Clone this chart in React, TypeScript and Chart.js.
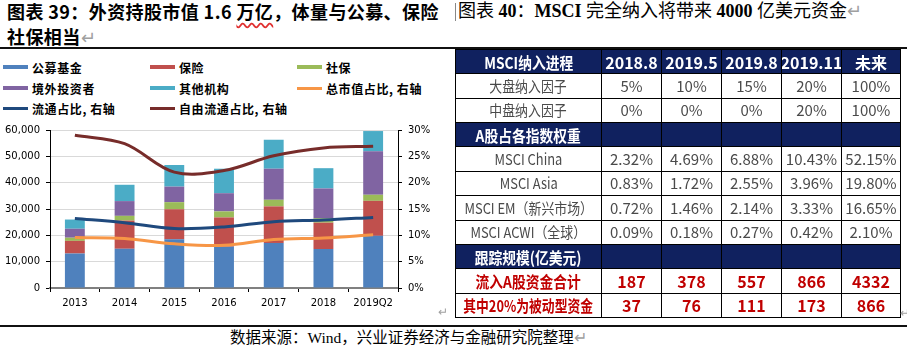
import React, { useEffect, useRef } from 'react';
import { Chart, registerables } from 'chart.js';

Chart.register(...registerables);

// ---------- chart data ----------
const categories = ['2013', '2014', '2015', '2016', '2017', '2018', '2019Q2'];
const gongmu = [13100, 14900, 18500, 15700, 17100, 14800, 19800]; // 公募基金
const baoxian = [4800, 10700, 11400, 11100, 13900, 10000, 13300]; // 保险
const shebao = [1200, 1800, 2700, 2300, 2500, 1700, 2300]; // 社保
const jingwai = [3400, 5600, 5900, 6900, 11800, 11300, 16500]; // 境外投资者
const qita = [3500, 6200, 8200, 9300, 11000, 7700, 7700]; // 其他机构
const zongShizhi = [9.6, 9.4, 8.4, 8.1, 9.2, 9.5, 10.1]; // 总市值占比 %
const liutong = [13.2, 12.4, 11.3, 11.6, 12.6, 12.9, 13.4]; // 流通占比 %
const ziyouLiutong = [29.0, 27.4, 22.0, 22.3, 25.1, 26.6, 26.9]; // 自由流通占比 %

const barNames = ['公募基金', '保险', '社保', '境外投资者', '其他机构'];
const lineNames = ['总市值占比, 右轴', '流通占比, 右轴', '自由流通占比, 右轴'];
const barColors = ['#4F81BD', '#C0504D', '#9BBB59', '#8064A2', '#4BACC6'];
const lineColors = ['#F79646', '#1F497D', '#772C2A'];
const leftMax = 60000;
const leftStep = 10000;
const rightMax = 30;
const rightStep = 5;

// ---------- table data ----------
const tableCols = ['2018.8', '2019.5', '2019.8', '2019.11', '未来'];
const largeCap = ['5%', '10%', '15%', '20%', '100%'];
const midCap = ['0%', '0%', '0%', '20%', '100%'];
const msciChina = ['2.32%', '4.69%', '6.88%', '10.43%', '52.15%'];
const msciAsia = ['0.83%', '1.72%', '2.55%', '3.96%', '19.80%'];
const msciEM = ['0.72%', '1.46%', '2.14%', '3.33%', '16.65%'];
const msciACWI = ['0.09%', '0.18%', '0.27%', '0.42%', '2.10%'];
const inflow = ['187', '378', '557', '866', '4332'];
const passive = ['37', '76', '111', '173', '866'];

const NAVY = '#10215F';
const RED = '#C00000';
const TICK_FONT = { family: 'DejaVu Sans', size: 10 };

function StockChart() {
  const ref = useRef<HTMLCanvasElement>(null);
  useEffect(() => {
    const canvas = ref.current;
    if (!canvas) return;
    const bars = [gongmu, baoxian, shebao, jingwai, qita].map((d, i) => ({
      type: 'bar' as const,
      label: barNames[i],
      data: d,
      backgroundColor: barColors[i],
      stack: 's',
      yAxisID: 'y',
      order: 2,
      barPercentage: 0.4,
      categoryPercentage: 1.0,
    }));
    const lines = [zongShizhi, liutong, ziyouLiutong].map((d, i) => ({
      type: 'line' as const,
      label: lineNames[i],
      data: d,
      borderColor: lineColors[i],
      backgroundColor: lineColors[i],
      borderWidth: 3,
      pointRadius: 0,
      tension: 0.35,
      fill: false,
      yAxisID: 'y1',
      order: 0,
    }));
    const chart = new Chart(canvas, {
      type: 'bar',
      data: { labels: categories, datasets: [...bars, ...lines] as any },
      options: {
        animation: false,
        responsive: false,
        maintainAspectRatio: false,
        layout: { padding: { top: 10, left: 0, right: 0, bottom: 0 } },
        plugins: { legend: { display: false }, tooltip: { enabled: false } },
        scales: {
          x: {
            stacked: true,
            grid: { display: true, drawOnChartArea: false, tickLength: 4, color: '#000', offset: true },
            border: { color: '#808080', width: 2 },
            ticks: { font: TICK_FONT, color: '#000', padding: 5, maxRotation: 0, autoSkip: false },
            afterFit: (s: any) => { s.height = 30; },
          },
          y: {
            stacked: true,
            min: 0,
            max: leftMax,
            ticks: {
              stepSize: leftStep,
              font: TICK_FONT,
              color: '#000',
              padding: 6,
              callback: (v: any) => Number(v).toLocaleString('en-US'),
            },
            grid: { color: '#D9D9D9', tickColor: '#000', tickLength: 4 },
            border: { color: '#000', width: 1 },
            afterFit: (s: any) => { s.width = 50; },
          },
          y1: {
            position: 'right',
            min: 0,
            max: rightMax,
            ticks: {
              stepSize: rightStep,
              font: TICK_FONT,
              color: '#000',
              padding: 6,
              callback: (v: any) => `${v}%`,
            },
            grid: { drawOnChartArea: false, tickColor: '#000', tickLength: 4 },
            border: { color: '#000', width: 1 },
            afterFit: (s: any) => { s.width = 52; },
          },
        },
      } as any,
    });
    return () => chart.destroy();
  }, []);
  return (
    <canvas
      ref={ref}
      width={450}
      height={200}
      style={{ position: 'absolute', left: 0, top: 118, width: 450, height: 200 }}
    />
  );
}

function Legend() {
  const items = [
    ...barNames.map((n, i) => ({ name: n, color: barColors[i], thick: true })),
    ...lineNames.map((n, i) => ({ name: n, color: lineColors[i], thick: false })),
  ];
  const colX = [3, 150, 297];
  const rowY = [67, 88, 108];
  return (
    <>
      {items.map((it, i) => {
        const r = Math.floor(i / 3);
        const c = i % 3;
        return (
          <div
            key={it.name}
            style={{ position: 'absolute', left: colX[c], top: rowY[r] - 9, height: 18, display: 'flex', alignItems: 'center' }}
          >
            <div style={{ width: 25, height: it.thick ? 4 : 3, background: it.color, marginRight: 4 }} />
            <span
              style={{
                fontFamily: '"Noto Sans CJK SC", sans-serif',
                fontWeight: 'bold',
                fontSize: 12,
                letterSpacing: 0.6,
                color: '#000',
                whiteSpace: 'nowrap',
              }}
            >
              {it.name}
            </span>
          </div>
        );
      })}
    </>
  );
}

const cellBorder = '1px solid #000';

function Cell(props: { text: string; bg?: string; color?: string; bold?: boolean; size?: number; squeeze?: number; family?: string }) {
  const { text, bg, color, bold, size, squeeze, family } = props;
  return (
    <td
      style={{
        border: cellBorder,
        background: bg || '#fff',
        color: color || '#4A4A4A',
        fontWeight: bold ? 'bold' : 'normal',
        fontSize: size || 14,
        fontFamily: family || '"Liberation Sans Narrow", "Noto Sans CJK SC", sans-serif',
        padding: 0,
        lineHeight: '16px',
        whiteSpace: 'nowrap',
        overflow: 'hidden',
      }}
    >
      <div style={{ display: 'flex', justifyContent: 'center' }}>
        <span style={{ display: 'inline-block', flex: 'none', transform: squeeze ? `scaleX(${squeeze})` : undefined }}>{text}</span>
      </div>
    </td>
  );
}

function MsciTable() {
  const bodyRow = (label: string, vals: string[]) => (
    <tr>
      <Cell text={label} squeeze={0.86} size={15} />
      {vals.map((v, i) => <Cell key={i} text={v} size={15} />)}
    </tr>
  );
  const navyRow = (label: string) => (
    <tr>
      <Cell text={label} bg={NAVY} color="#fff" bold squeeze={0.86} size={16} />
      {tableCols.map((_, i) => <Cell key={i} text="" bg={NAVY} />)}
    </tr>
  );
  const redRow = (label: string, vals: string[], sq: number) => (
    <tr>
      <Cell text={label} color={RED} bold squeeze={sq} size={16} />
      {vals.map((v, i) => <Cell key={i} text={v} color={RED} bold size={16} />)}
    </tr>
  );
  return (
    <table
      style={{
        position: 'absolute',
        left: 455,
        top: 49,
        width: 445,
        height: 269,
        borderCollapse: 'collapse',
        tableLayout: 'fixed',
      }}
    >
      <colgroup>
        <col style={{ width: 146 }} />
        <col style={{ width: 60 }} />
        <col style={{ width: 60 }} />
        <col style={{ width: 60 }} />
        <col style={{ width: 60 }} />
        <col style={{ width: 59 }} />
      </colgroup>
      <tbody>
        <tr>
          <Cell text="MSCI纳入进程" bg={NAVY} color="#fff" bold squeeze={0.86} size={16} />
          {tableCols.map((c, i) => <Cell key={i} text={c} bg={NAVY} color="#fff" bold size={16} />)}
        </tr>
        {bodyRow('大盘纳入因子', largeCap)}
        {bodyRow('中盘纳入因子', midCap)}
        {navyRow('A股占各指数权重')}
        {bodyRow('MSCI China', msciChina)}
        {bodyRow('MSCI Asia', msciAsia)}
        {bodyRow('MSCI EM（新兴市场）', msciEM)}
        {bodyRow('MSCI ACWI（全球）', msciACWI)}
        {navyRow('跟踪规模(亿美元)')}
        {redRow('流入A股资金合计', inflow, 0.86)}
        {redRow('其中20%为被动型资金', passive, 0.8)}
      </tbody>
    </table>
  );
}

const ret = <span style={{ color: '#A0A0A0', fontWeight: 'normal' }}>↵</span>;

export default function App() {
  return (
    <div
      style={{
        position: 'absolute',
        left: 0,
        top: 0,
        width: 907,
        height: 353,
        background: '#fff',
        overflow: 'hidden',
      }}
    >
      <div
        style={{
          position: 'absolute',
          left: 7,
          top: -1,
          fontFamily: '"Noto Sans CJK SC", sans-serif',
          fontWeight: 'bold',
          fontSize: 18,
          letterSpacing: 0.4,
          lineHeight: '25px',
          color: '#000',
          whiteSpace: 'nowrap',
        }}
      >
        <div>
          图表 39：外资持股市值 1.6{' '}
          <span style={{ textDecoration: 'underline wavy #E03030', textUnderlineOffset: 3 }}>万亿</span>
          ，体量与公募、保险
        </div>
        <div style={{ marginTop: 0 }}>社保相当{ret}</div>
      </div>
      <div style={{ position: 'absolute', left: 455, top: 3, width: 1, height: 18, background: '#888' }} />
      <div
        style={{
          position: 'absolute',
          left: 458,
          top: -1,
          fontFamily: '"Liberation Serif", "Noto Sans CJK SC", serif',
          fontSize: 18,
          lineHeight: '25px',
          color: '#000',
          whiteSpace: 'nowrap',
        }}
      >
        图表 <b>40</b>：<b>MSCI</b> 完全纳入将带来 <b>4000</b> 亿美元资金{ret}
      </div>
      <div style={{ position: 'absolute', left: 0, top: 47, width: 907, height: 2, background: '#111' }} />
      <Legend />
      <StockChart />
      <div style={{ position: 'absolute', left: 438, top: 305, fontSize: 12, color: '#A0A0A0' }}>↵</div>
      <MsciTable />
      <div style={{ position: 'absolute', left: 900, top: 306, fontSize: 12, color: '#A0A0A0' }}>↵</div>
      <div style={{ position: 'absolute', left: 0, top: 325, width: 907, height: 2, background: '#111' }} />
      <div
        style={{
          position: 'absolute',
          left: 230,
          top: 328,
          fontFamily: '"Liberation Serif", "Noto Sans CJK SC", serif',
          fontSize: 15.5,
          lineHeight: '20px',
          color: '#000',
          whiteSpace: 'nowrap',
        }}
      >
        数据来源：Wind，兴业证券经济与金融研究院整理{ret}
      </div>
    </div>
  );
}
